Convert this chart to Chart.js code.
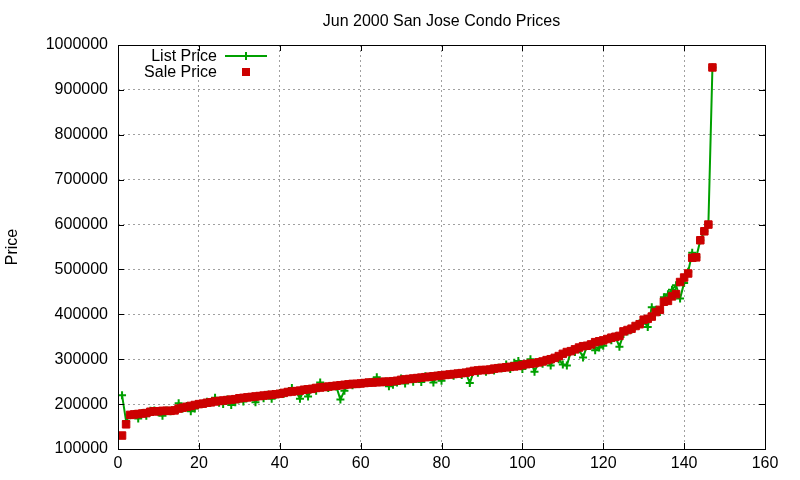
<!DOCTYPE html>
<html>
<head>
<meta charset="utf-8">
<title>Jun 2000 San Jose Condo Prices</title>
<script src="https://cdn.jsdelivr.net/npm/chart.js@4/dist/chart.umd.min.js"></script>
<style>
  html, body { margin: 0; padding: 0; background: #fff; }
  #priceChart { display: block; }
</style>
</head>
<body>
<canvas id="priceChart" width="800" height="480"></canvas>
<script>
// Sale prices, sorted, one per listing
const salePrice = [
    130000, 155000, 176000, 177000, 178000, 179000, 180000, 183000, 184000, 184000,
    185000, 185000, 185000, 186000, 190000, 192000, 194000, 196000, 198000, 200000,
    201000, 203000, 204000, 206000, 207000, 208000, 209000, 210000, 211000, 213000,
    214000, 215000, 216000, 217000, 218000, 219000, 220000, 221000, 222000, 223000,
    225000, 227000, 228000, 229000, 230000, 232000, 233000, 234000, 236000, 237000,
    238000, 239000, 240000, 241000, 242000, 243000, 244000, 245000, 245000, 246000,
    247000, 248000, 248000, 249000, 249000, 250000, 250000, 251000, 252000, 254000,
    255000, 256000, 257000, 258000, 259000, 260000, 261000, 262000, 263000, 264000,
    265000, 266000, 267000, 268000, 269000, 270000, 272000, 274000, 275000, 276000,
    276000, 277000, 279000, 280000, 281000, 282000, 283000, 284000, 285000, 287000,
    289000, 290000, 291000, 293000, 295000, 298000, 300000, 303000, 307000, 312000,
    316000, 318000, 322000, 326000, 329000, 330000, 333000, 338000, 340000, 342000,
    345000, 348000, 350000, 352000, 362000, 365000, 368000, 374000, 378000, 388000,
    390000, 395000, 405000, 410000, 428000, 430000, 440000, 445000, 472000, 482000,
    491000, 526000, 527000, 565000, 585000, 600000, 950000
];

// Asking prices for the same listings
const listPrice = [
    220000, 162000, 175000, 178000, 168000, 180000, 174000, 185000, 186000, 182000,
    174000, 186000, 184000, 187000, 202000, 190000, 196000, 184000, 190000, 200000,
    201000, 205000, 204000, 214000, 203000, 200000, 210000, 198000, 204000, 211000,
    206000, 215000, 216000, 204000, 218000, 213000, 221000, 212000, 221000, 225000,
    223000, 227000, 236000, 229000, 212000, 232000, 217000, 234000, 230000, 248000,
    238000, 236000, 240000, 239000, 210000, 230000, 244000, 242000, 245000, 246000,
    247000, 248000, 250000, 260000, 249000, 250000, 240000, 243000, 248000, 257000,
    246000, 256000, 250000, 258000, 249000, 262000, 261000, 248000, 263000, 252000,
    265000, 266000, 263000, 268000, 265000, 270000, 247000, 274000, 270000, 276000,
    272000, 277000, 275000, 281000, 280000, 288000, 278000, 292000, 296000, 278000,
    289000, 300000, 272000, 293000, 290000, 298000, 286000, 303000, 300000, 288000,
    286000, 318000, 316000, 322000, 304000, 330000, 333000, 320000, 326000, 330000,
    345000, 342000, 350000, 328000, 356000, 362000, 366000, 374000, 380000, 385000,
    372000, 416000, 410000, 405000, 438000, 445000, 455000, 465000, 435000, 470000,
    495000, 537000, 527000, 565000, 585000, 600000, 950000
];

// Listing number along the x axis (1..n)
const listingNo = salePrice.map((_, i) => i + 1);

const xMin = 0, xMax = 160, xStep = 20;
const yMin = 100000, yMax = 1000000, yStep = 100000;

const chartTitle = 'Jun 2000 San Jose Condo Prices';
const yTitle = 'Price';
const seriesNames = ['List Price', 'Sale Price'];

const green = 'rgb(0, 160, 0)';
const red = 'rgb(204, 0, 0)';
const gridColor = '#a0a0a0';
const fontFamily = '"Liberation Sans", Arial, sans-serif';

const listPoints = listingNo.map((x, i) => ({ x: x, y: listPrice[i] }));
const salePoints = listingNo.map((x, i) => ({ x: x, y: salePrice[i] }));

// gnuplot-like frame with inward tick marks, title and key
const gnuplotLook = {
    id: 'gnuplotLook',
    afterDraw(chart) {
        const { ctx, chartArea: a, scales } = chart;
        const tick = 6;
        ctx.save();
        ctx.strokeStyle = '#000';
        ctx.lineWidth = 1;
        ctx.beginPath();
        scales.x.ticks.forEach(t => {
            if (t.value <= xMin || t.value >= xMax) return;
            const px = Math.round(scales.x.getPixelForValue(t.value)) + 0.5;
            ctx.moveTo(px, a.bottom); ctx.lineTo(px, a.bottom - tick);
            ctx.moveTo(px, a.top); ctx.lineTo(px, a.top + tick);
        });
        scales.y.ticks.forEach(t => {
            if (t.value <= yMin || t.value >= yMax) return;
            const py = Math.round(scales.y.getPixelForValue(t.value)) + 0.5;
            ctx.moveTo(a.left, py); ctx.lineTo(a.left + tick, py);
            ctx.moveTo(a.right, py); ctx.lineTo(a.right - tick, py);
        });
        ctx.stroke();
        ctx.strokeRect(Math.round(a.left) + 0.5, Math.round(a.top) + 0.5,
            Math.round(a.right - a.left), Math.round(a.bottom - a.top));

        // title, centred over the plot area
        ctx.fillStyle = '#000';
        ctx.font = '16px ' + fontFamily;
        ctx.textAlign = 'center';
        ctx.textBaseline = 'middle';
        ctx.fillText(chartTitle, (a.left + a.right) / 2, 22);

        // key: text right-aligned, sample on the right
        ctx.textAlign = 'right';
        ctx.fillText(seriesNames[0], 217, 57);
        ctx.fillText(seriesNames[1], 217, 73);

        ctx.strokeStyle = green;
        ctx.lineWidth = 2;
        ctx.beginPath();
        ctx.moveTo(225, 56); ctx.lineTo(267, 56);
        ctx.moveTo(246, 52); ctx.lineTo(246, 60);
        ctx.stroke();

        ctx.fillStyle = red;
        ctx.fillRect(242, 68, 8, 8);
        ctx.restore();
    }
};

const ctx = document.getElementById('priceChart').getContext('2d');
const priceChart = new Chart(ctx, {
    type: 'line',
    data: {
        datasets: [{
            label: seriesNames[0],
            data: listPoints,
            borderColor: green,
            backgroundColor: green,
            borderWidth: 2,
            pointStyle: 'cross',
            pointRadius: 4,
            pointBorderWidth: 2,
            tension: 0,
            order: 2
        }, {
            label: seriesNames[1],
            data: salePoints,
            showLine: false,
            borderColor: red,
            backgroundColor: red,
            pointStyle: 'rect',
            pointRadius: 5.3,
            pointBorderWidth: 1,
            order: 1
        }]
    },
    options: {
        responsive: false,
        animation: false,
        events: [],
        layout: { padding: { top: 45, right: 35, bottom: 0, left: 0 } },
        plugins: {
            legend: { display: false },
            tooltip: { enabled: false },
            title: { display: false }
        },
        scales: {
            x: {
                type: 'linear',
                min: xMin,
                max: xMax,
                afterFit: scale => { scale.height = 31; },
                ticks: {
                    stepSize: xStep,
                    padding: 5,
                    color: '#000',
                    maxRotation: 0,
                    font: { family: fontFamily, size: 16 }
                },
                grid: { color: gridColor, lineWidth: 1, drawTicks: false },
                border: { display: false, dash: [2, 3] }
            },
            y: {
                type: 'linear',
                min: yMin,
                max: yMax,
                afterFit: scale => { scale.width = 118; },
                ticks: {
                    stepSize: yStep,
                    padding: 10,
                    color: '#000',
                    font: { family: fontFamily, size: 16 },
                    callback: v => String(v)
                },
                grid: { color: gridColor, lineWidth: 1, drawTicks: false },
                border: { display: false, dash: [2, 3] },
                title: {
                    display: true,
                    text: yTitle,
                    color: '#000',
                    font: { family: fontFamily, size: 16 },
                    padding: { top: 3, bottom: 0 }
                }
            }
        }
    },
    plugins: [gnuplotLook]
});
</script>
</body>
</html>
